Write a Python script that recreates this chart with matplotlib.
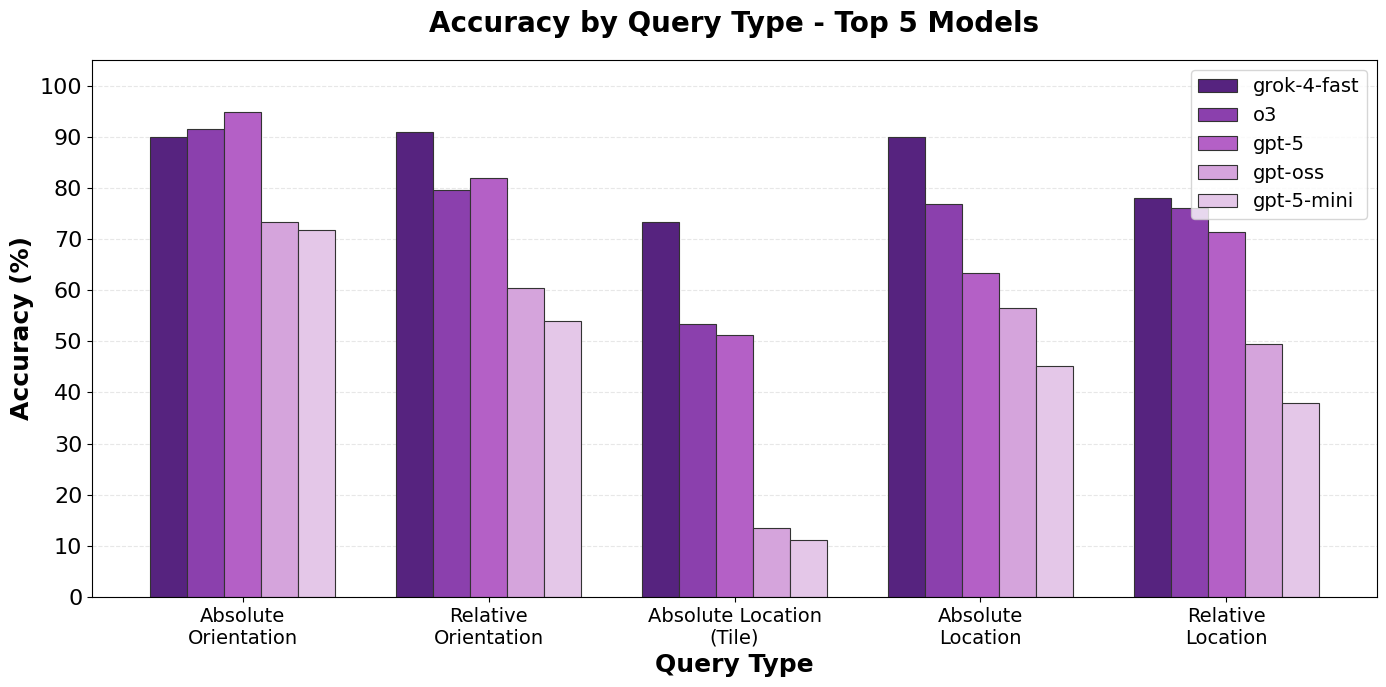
import numpy as np
import matplotlib.pyplot as plt

# Query types and model accuracies (%)
query_types = ['Absolute\nOrientation', 'Relative\nOrientation', 'Absolute Location\n(Tile)',
               'Absolute\nLocation', 'Relative\nLocation']
models = ['grok-4-fast', 'o3', 'gpt-5', 'gpt-oss', 'gpt-5-mini']

grok_4_fast = [90.0, 91.0, 73.4, 90.0, 78.1]
o3 = [91.6, 79.6, 53.3, 76.8, 76.0]
gpt_5 = [94.9, 82.0, 51.2, 63.3, 71.3]
gpt_oss = [73.4, 60.4, 13.5, 56.6, 49.4]
gpt_5_mini = [71.7, 53.9, 11.1, 45.1, 37.9]

series = [grok_4_fast, o3, gpt_5, gpt_oss, gpt_5_mini]
colors = ['#56237F', '#8B40AD', '#B460C6', '#D5A4DC', '#E4C7E8']

fig, ax = plt.subplots(figsize=(13.86, 6.87), dpi=100)

x = np.arange(len(query_types))
width = 0.15
for i, (vals, name) in enumerate(zip(series, models)):
    ax.bar(x + (i - 2) * width, vals, width, label=name, color=colors[i],
           edgecolor=(0.2, 0.2, 0.2), linewidth=0.8)

ax.set_title('Accuracy by Query Type - Top 5 Models', fontsize=20, fontweight='bold', pad=20)
ax.set_xlabel('Query Type', fontsize=18, fontweight='bold')
ax.set_ylabel('Accuracy (%)', fontsize=18, fontweight='bold')
ax.set_xticks(x)
ax.set_xticklabels(query_types, fontsize=14)
ax.set_ylim(0, 105)
ax.set_yticks(range(0, 101, 10))
ax.tick_params(axis='y', labelsize=16)
ax.yaxis.grid(True, linestyle='--', alpha=0.3)
ax.set_axisbelow(True)
ax.legend(fontsize=14, loc='upper right')

fig.subplots_adjust(left=0.0664, right=0.9935, top=0.9127, bottom=0.131)
plt.savefig('out.png', dpi=100)
